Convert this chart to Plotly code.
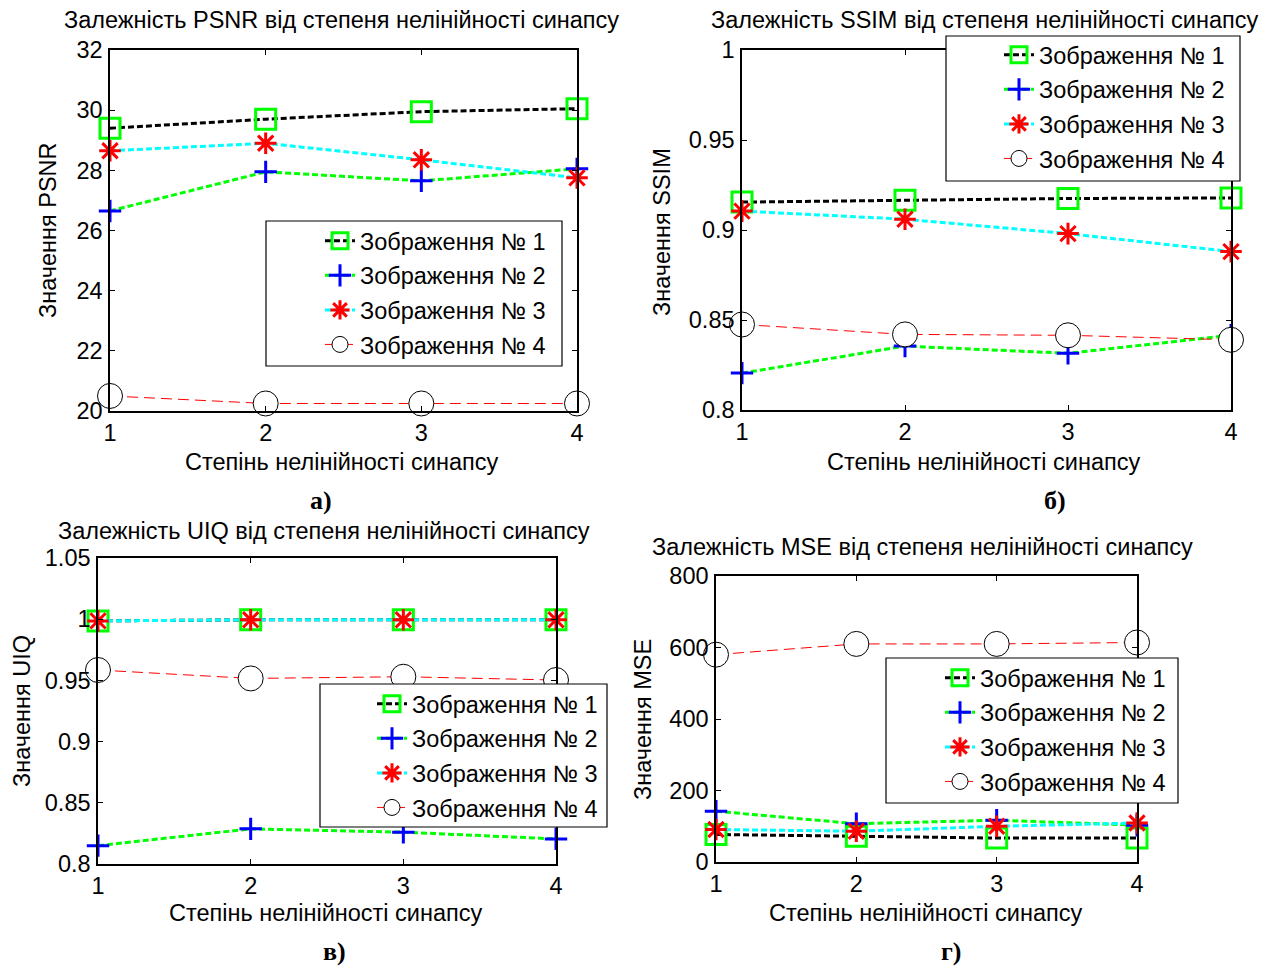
import plotly.graph_objects as go

# The page places the figure 8 px from the top-left corner of the window.
OFF = 8
W, H = 1270 - OFF, 966 - OFF

x_vals = [1, 2, 3, 4]
series_names = ["Зображення № 1", "Зображення № 2", "Зображення № 3", "Зображення № 4"]

psnr_1 = [29.4, 29.7, 29.95, 30.05]
psnr_2 = [26.65, 27.95, 27.65, 28.05]
psnr_3 = [28.65, 28.9, 28.35, 27.75]
psnr_4 = [20.5, 20.25, 20.25, 20.25]

ssim_1 = [0.9155, 0.9165, 0.9175, 0.9178]
ssim_2 = [0.8205, 0.8355, 0.8315, 0.8415]
ssim_3 = [0.9105, 0.9060, 0.8980, 0.8880]
ssim_4 = [0.8475, 0.8420, 0.8415, 0.8390]

uiq_1 = [0.9986, 0.9995, 0.9995, 0.9995]
uiq_2 = [0.8150, 0.8287, 0.8260, 0.8205]
uiq_3 = [0.9986, 0.9995, 0.9995, 0.9995]
uiq_4 = [0.9585, 0.9516, 0.9530, 0.9503]

mse_1 = [77, 72, 67, 67]
mse_2 = [142, 107, 117, 103]
mse_3 = [91, 86, 100, 109]
mse_4 = [580, 610, 610, 614]

titles = [
    "Залежність PSNR від степеня нелінійності синапсу",
    "Залежність SSIM від степеня нелінійності синапсу",
    "Залежність UIQ від степеня нелінійності синапсу",
    "Залежність MSE від степеня нелінійності синапсу",
]
ylabels = ["Значення PSNR", "Значення SSIM", "Значення UIQ", "Значення MSE"]
xlabel = "Степінь нелінійності синапсу"
panel_labels = ["а)", "б)", "в)", "г)"]

y_ticks = [
    [20, 22, 24, 26, 28, 30, 32],
    [0.8, 0.85, 0.9, 0.95, 1],
    [0.8, 0.85, 0.9, 0.95, 1, 1.05],
    [0, 200, 400, 600, 800],
]
y_ticktext = [
    ["20", "22", "24", "26", "28", "30", "32"],
    ["0.8", "0.85", "0.9", "0.95", "1"],
    ["0.8", "0.85", "0.9", "0.95", "1", "1.05"],
    ["0", "200", "400", "600", "800"],
]
y_ranges = [[20, 32], [0.8, 1.0], [0.8, 1.05], [0, 800]]

data = [
    [psnr_1, psnr_2, psnr_3, psnr_4],
    [ssim_1, ssim_2, ssim_3, ssim_4],
    [uiq_1, uiq_2, uiq_3, uiq_4],
    [mse_1, mse_2, mse_3, mse_4],
]

FONT = "Liberation Sans, Arial, sans-serif"
SERIF = "Liberation Serif, Times New Roman, serif"
FS = 23.5


def px(x):
    return (x - OFF) / W


def py(y):
    return 1 - (y - OFF) / H


# axes boxes in window pixels: left, right, top, bottom
boxes = [
    (110, 577, 50, 411),
    (742, 1231, 50, 410),
    (98, 556, 558, 864),
    (716, 1137, 576, 862),
]
# legend frame boxes (left, right, top, bottom) and text start / first row centre
legend_box = [(266, 562, 221, 366), (946, 1240, 36, 181), (320, 607, 684, 827), (886, 1178, 658, 803)]
legend_text = [(362, 241), (1041, 55), (414, 704), (982, 678)]
title_pos = [(341, 20, "center"), (984, 20, "center"), (324, 531, "center"), (650, 547, "left")]
xlabel_pos = [(341, 462), (983, 462), (325, 913), (925, 913)]
ylabel_pos = [(48, 230), (662, 232), (22, 711), (643, 720)]
panel_pos = [(321, 500), (1055, 500), (334, 951), (951, 951)]

styles = [
    dict(line=dict(color="black", width=3, dash="6px,3px"),
         marker=dict(symbol="square-open", size=20, color="#00ff00", line=dict(width=3, color="#00ff00"))),
    dict(line=dict(color="#00ff00", width=3, dash="6px,3px"),
         marker=dict(symbol="cross-thin-open", size=16, color="#0000ff", line=dict(width=3, color="#0000ff"))),
    dict(line=dict(color="#00ffff", width=3, dash="6px,3px"),
         marker=dict(symbol="asterisk-open", size=18, color="#ff0000", line=dict(width=3, color="#ff0000"))),
    dict(line=dict(color="#ff0000", width=1, dash="11px,6px"),
         marker=dict(symbol="circle", size=25, color="white", line=dict(width=1, color="black"))),
]

fig = go.Figure()
layout = dict(
    width=W, height=H,
    margin=dict(l=0, r=0, t=0, b=0, autoexpand=False),
    paper_bgcolor="white", plot_bgcolor="white",
    font=dict(family=FONT, size=FS, color="black"),
    showlegend=True,
)
annotations = []
shapes = []

for i in range(4):
    xa = "x" if i == 0 else f"x{i+1}"
    ya = "y" if i == 0 else f"y{i+1}"
    lg = "legend" if i == 0 else f"legend{i+1}"
    for j in range(4):
        fig.add_trace(go.Scatter(
            x=x_vals, y=data[i][j], mode="lines+markers",
            name=series_names[j], xaxis=xa, yaxis=ya, legend=lg,
            legendgroup=f"g{i}{j}", cliponaxis=False,
            line=styles[j]["line"], marker=styles[j]["marker"],
        ))
    l, r, t, b = boxes[i]
    xkey = "xaxis" if i == 0 else f"xaxis{i+1}"
    ykey = "yaxis" if i == 0 else f"yaxis{i+1}"
    layout[xkey] = dict(
        domain=[px(l), px(r)], range=[1, 4], anchor=ya, automargin=False,
        tickvals=x_vals, ticktext=[str(v) for v in x_vals],
        ticks="inside", ticklen=5, tickcolor="black", mirror="ticks",
        showline=True, linecolor="black", linewidth=1.5,
        showgrid=False, zeroline=False, ticklabelstandoff=0,
        tickfont=dict(family=FONT, size=FS, color="black"),
    )
    layout[ykey] = dict(
        domain=[py(b), py(t)], range=y_ranges[i], anchor=xa, automargin=False,
        tickvals=y_ticks[i], ticktext=y_ticktext[i],
        ticks="inside", ticklen=5, tickcolor="black", mirror="ticks",
        showline=True, linecolor="black", linewidth=1.5,
        showgrid=False, zeroline=False, ticklabelstandoff=1,
        tickfont=dict(family=FONT, size=FS, color="black"),
    )
    bl, br, bt, bb = legend_box[i]
    shapes.append(dict(type="rect", xref="paper", yref="paper", layer="above",
                       x0=px(bl), x1=px(br), y0=py(bb), y1=py(bt),
                       line=dict(color="black", width=1.2), fillcolor="white"))
    tx0, ty0 = legend_text[i]
    layout[lg] = dict(
        x=px(tx0 - 42), y=py(ty0 - 22), xanchor="left", yanchor="top",
        xref="paper", yref="paper",
        borderwidth=0, bgcolor="rgba(0,0,0,0)",
        font=dict(family=FONT, size=FS, color="black"),
        tracegroupgap=1, itemsizing="trace",
    )
    tx, ty, ta = title_pos[i]
    annotations.append(dict(text=titles[i], x=px(tx), y=py(ty), xref="paper", yref="paper",
                            xanchor=ta, yanchor="middle", showarrow=False,
                            font=dict(family=FONT, size=FS, color="black")))
    xx, xy = xlabel_pos[i]
    annotations.append(dict(text=xlabel, x=px(xx), y=py(xy), xref="paper", yref="paper",
                            xanchor="center", yanchor="middle", showarrow=False,
                            font=dict(family=FONT, size=FS, color="black")))
    yx, yy = ylabel_pos[i]
    annotations.append(dict(text=ylabels[i], x=px(yx), y=py(yy), xref="paper", yref="paper",
                            xanchor="center", yanchor="middle", showarrow=False, textangle=-90,
                            font=dict(family=FONT, size=FS, color="black")))
    ppx, ppy = panel_pos[i]
    annotations.append(dict(text="<b>" + panel_labels[i] + "</b>", x=px(ppx), y=py(ppy),
                            xref="paper", yref="paper", xanchor="center", yanchor="middle",
                            showarrow=False, font=dict(family=SERIF, size=26, color="black")))

layout["annotations"] = annotations
layout["shapes"] = shapes
fig.update_layout(**layout)
fig.write_html("out.html")
